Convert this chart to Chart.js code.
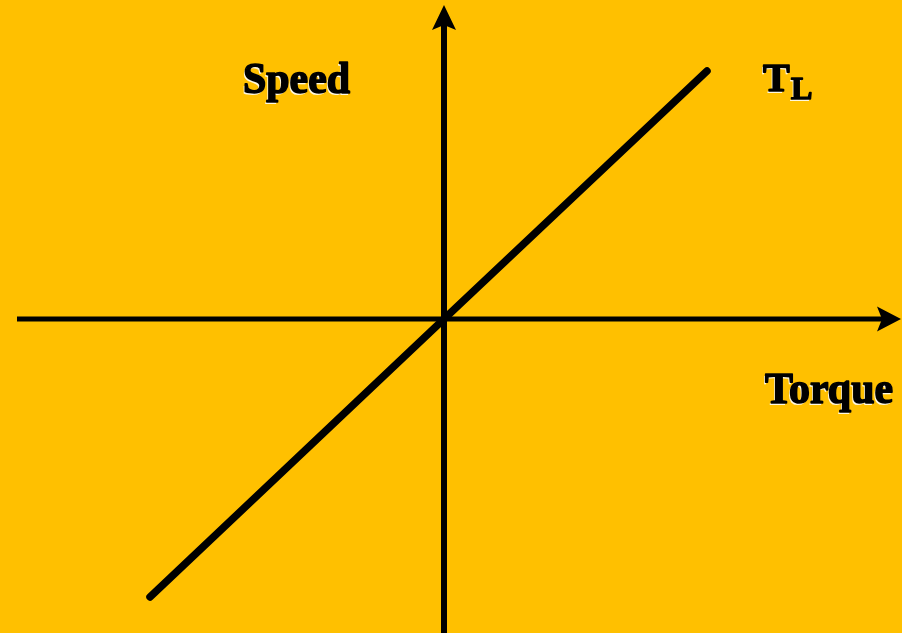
<!DOCTYPE html>
<html>
<head>
<meta charset="utf-8">
<script src="https://cdn.jsdelivr.net/npm/chart.js@4/dist/chart.umd.min.js"></script>
<style>
  html, body { margin: 0; padding: 0; background: #FFC000; }
  #wrap { width: 902px; height: 633px; }
</style>
</head>
<body>
<div id="wrap"><canvas id="c" width="902" height="633"></canvas></div>
<script>
// Load line T_L (torque vs speed)
const torqueValues = [-2.94, 0, 2.63];
const speedValues  = [-2.78, 0, 2.48];
const axisLabels = { y: 'Speed', x: 'Torque', line: 'T', lineSub: 'L' };

const points = torqueValues.map((t, i) => ({ x: t, y: speedValues[i] }));

const bgPlugin = {
  id: 'bg',
  beforeDraw(chart) {
    const ctx = chart.ctx;
    ctx.save();
    ctx.fillStyle = '#FFC000';
    ctx.fillRect(0, 0, chart.width, chart.height);
    ctx.restore();
  }
};

const axesPlugin = {
  id: 'quadAxes',
  beforeDatasetsDraw(chart) {
    const ctx = chart.ctx;
    const xs = chart.scales.x, ys = chart.scales.y;
    const ox = xs.getPixelForValue(0), oy = ys.getPixelForValue(0);
    ctx.save();
    ctx.fillStyle = '#000';
    ctx.strokeStyle = '#000';
    // horizontal axis
    const hx0 = xs.getPixelForValue(-4.27), hx1 = xs.getPixelForValue(4.57);
    ctx.lineWidth = 5;
    ctx.beginPath();
    ctx.moveTo(hx0, oy); ctx.lineTo(hx1 - 12, oy); ctx.stroke();
    ctx.beginPath();
    ctx.moveTo(hx1, oy);
    ctx.lineTo(hx1 - 24, oy - 12.5);
    ctx.lineTo(hx1 - 19, oy);
    ctx.lineTo(hx1 - 24, oy + 12.5);
    ctx.closePath(); ctx.fill();
    // vertical axis
    const vy0 = ys.getPixelForValue(-3.2), vy1 = ys.getPixelForValue(3.14);
    ctx.lineWidth = 6;
    ctx.beginPath();
    ctx.moveTo(ox, vy0); ctx.lineTo(ox, vy1 + 12); ctx.stroke();
    ctx.beginPath();
    ctx.moveTo(ox, vy1);
    ctx.lineTo(ox - 12, vy1 + 25);
    ctx.lineTo(ox, vy1 + 20);
    ctx.lineTo(ox + 12, vy1 + 25);
    ctx.closePath(); ctx.fill();
    ctx.restore();
  },
  afterDraw(chart) {
    const ctx = chart.ctx;
    ctx.save();
    ctx.textBaseline = 'alphabetic';
    ctx.textAlign = 'left';
    ctx.lineJoin = 'round';
    const draw = (txt, x, y, size, maxW) => {
      ctx.font = 'bold ' + size + 'px "Liberation Serif", "DejaVu Serif", serif';
      ctx.fillStyle = '#FFF8E0';
      ctx.fillText(txt, x - 1.5, y + 1.5, maxW);
      ctx.fillStyle = '#000';
      ctx.strokeStyle = '#000';
      ctx.lineWidth = 1.6;
      ctx.fillText(txt, x, y, maxW);
      ctx.strokeText(txt, x, y, maxW);
    };
    draw(axisLabels.y, 243, 93, 44, 107);
    draw(axisLabels.x, 765, 403, 44, 128);
    draw(axisLabels.line, 763, 91, 40, 30);
    draw(axisLabels.lineSub, 791, 99, 32, 22);
    ctx.restore();
  }
};

new Chart(document.getElementById('c'), {
  type: 'line',
  data: {
    datasets: [{
      data: points,
      borderColor: '#000',
      borderWidth: 7.5,
      borderCapStyle: 'round',
      pointRadius: 0,
      fill: false,
      tension: 0
    }]
  },
  options: {
    responsive: false,
    animation: false,
    layout: { padding: 0 },
    plugins: { legend: { display: false }, tooltip: { enabled: false } },
    scales: {
      x: { type: 'linear', min: -4.44, max: 4.58, display: false },
      y: { type: 'linear', min: -3.14, max: 3.19, display: false }
    }
  },
  plugins: [bgPlugin, axesPlugin]
});
</script>
</body>
</html>
